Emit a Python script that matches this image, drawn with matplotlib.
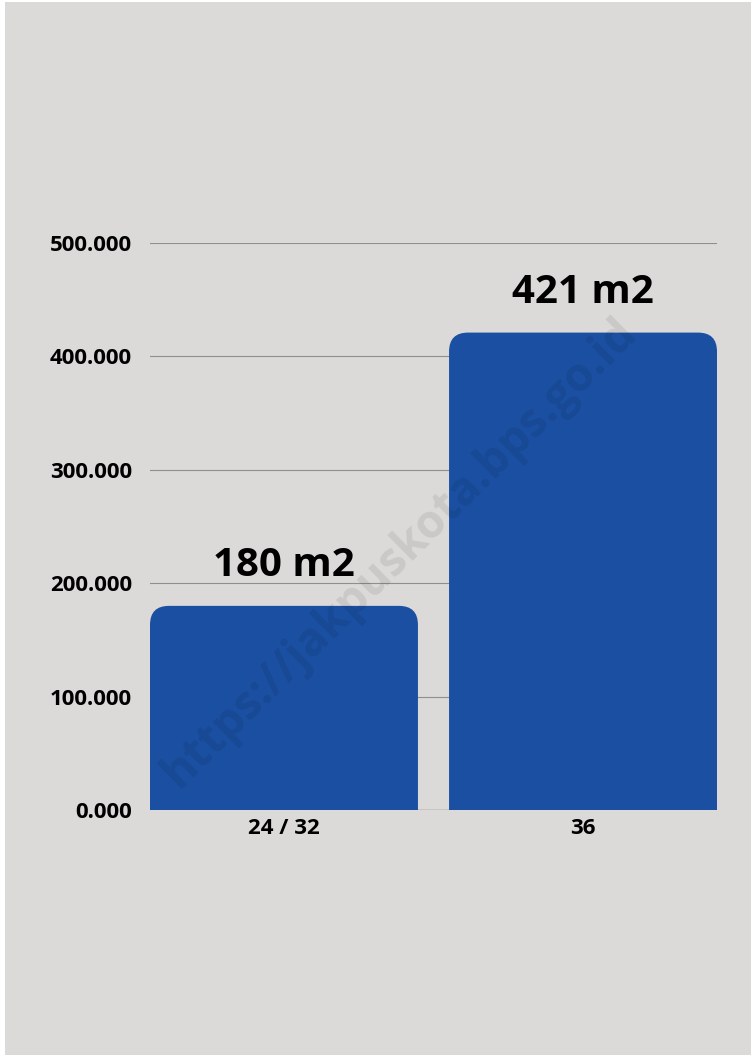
import matplotlib
matplotlib.use("Agg")
import matplotlib.pyplot as plt
from matplotlib.path import Path
from matplotlib.patches import PathPatch, Rectangle

# data
categories = ["24 / 32", "36"]
values = [180, 421]
value_labels = ["180 m2", "421 m2"]
yticks = [0, 100, 200, 300, 400, 500]

BG = "#dbdad8"
BAR = "#1a4fa2"

plt.rcParams["font.family"] = ["Open Sans", "DejaVu Sans"]

fig = plt.figure(figsize=(7.54, 10.57), dpi=100, facecolor="white")
# grey card behind the chart (thin white edge around it)
fig.patches.append(Rectangle((5 / 754, 2 / 1057), 746 / 754, 1053 / 1057,
                             transform=fig.transFigure, facecolor=BG,
                             edgecolor="none", zorder=-10))

ax = fig.add_axes([150 / 754, 247 / 1057, 567 / 754, 567 / 1057])
ax.set_facecolor("none")
ax.set_xlim(-0.448, 1.448)
ax.set_ylim(0, 500)

x = list(range(len(categories)))
bars = ax.bar(x, values, width=0.896, color=BAR)

# swap plain rectangles for bars with rounded top corners
px_x = 567 / (1.448 + 0.448)
px_y = 567 / 500
r_px = 19
for b in bars:
    x0, w, h = b.get_x(), b.get_width(), b.get_height()
    rx, ry = r_px / px_x, r_px / px_y
    verts = [(x0, 0), (x0, h - ry), (x0, h), (x0 + rx, h),
             (x0 + w - rx, h), (x0 + w, h), (x0 + w, h - ry),
             (x0 + w, 0), (x0, 0)]
    codes = [Path.MOVETO, Path.LINETO, Path.CURVE3, Path.CURVE3,
             Path.LINETO, Path.CURVE3, Path.CURVE3, Path.LINETO, Path.CLOSEPOLY]
    ax.add_patch(PathPatch(Path(verts, codes), facecolor=BAR,
                           edgecolor="none", zorder=2))
    b.set_visible(False)

for xi, v, lab in zip(x, values, value_labels):
    ax.annotate(lab, (xi, v), xytext=(0, 15), textcoords="offset points",
                ha="center", va="bottom", fontsize=29, fontweight="bold",
                color="black", zorder=4)

ax.set_yticks(yticks)
ax.set_yticklabels([f"{t:.3f}" for t in yticks])
ax.set_xticks(x)
ax.set_xticklabels(categories)
ax.tick_params(axis="both", length=0, labelsize=16)
ax.tick_params(axis="y", pad=13)
ax.tick_params(axis="x", pad=6)
for lab in ax.get_xticklabels() + ax.get_yticklabels():
    lab.set_fontweight("bold")

ax.grid(axis="y", color="#8f8f8f", linewidth=0.8, zorder=0)
ax.set_axisbelow(True)
ax.axhline(0, color="#5a5a5a", linewidth=0.9, zorder=1)
for s in ax.spines.values():
    s.set_visible(False)

# watermark
fig.text(400 / 754, 1 - 553 / 1057, "https://jakpuskota.bps.go.id",
         rotation=44.7, ha="center", va="center", fontsize=33,
         fontweight="bold", color="black", alpha=0.08, zorder=5)

fig.savefig("out.png", dpi=100, facecolor="white")
